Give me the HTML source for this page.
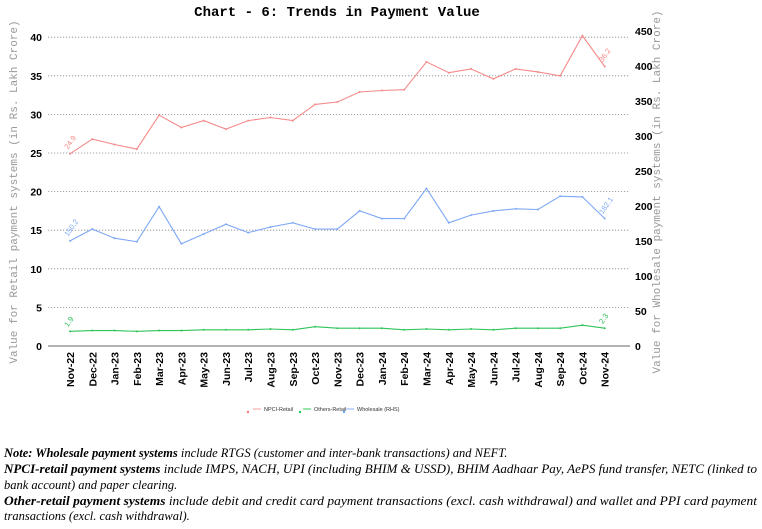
<!DOCTYPE html>
<html><head><meta charset="utf-8"><style>
body{margin:0;background:#fff;}
svg{display:block;}
</style></head><body>
<svg id="chart" width="762" height="529" viewBox="0 0 762 529" xmlns="http://www.w3.org/2000/svg">
<text x="337" y="16" text-anchor="middle" font-family="Liberation Mono, monospace" font-weight="bold" font-size="14">Chart - 6: Trends in Payment Value</text>
<g id="grid"></g>
<g id="laxis"></g>
<g id="raxis"></g>
<g id="xaxis"></g>
<g id="series"></g>
<text transform="translate(17,192) rotate(-90)" text-anchor="middle" font-family="Liberation Mono, monospace" font-size="11" fill="#999">Value for Retail payment systems (in Rs. Lakh Crore)</text>
<text transform="translate(660,192) rotate(-90)" text-anchor="middle" font-family="Liberation Mono, monospace" font-size="11" fill="#999">Value for Wholesale payment systems (in Rs. Lakh Crore)</text>
<g font-family="Liberation Sans, sans-serif" font-size="5.5" fill="#333">
<g><line x1="253" y1="409" x2="261" y2="409" stroke="#f9a0a0"/><circle cx="248" cy="412" r="1.2" fill="#f77"/><text x="264" y="411">NPCI-Retail</text></g>
<g><line x1="303" y1="409" x2="311" y2="409" stroke="#2ecc5a"/><circle cx="300" cy="412" r="1.2" fill="#2c5"/><text x="314" y="411">Others-Retail</text></g>
<g><line x1="346" y1="409" x2="354" y2="409" stroke="#8ab0ff"/><circle cx="344" cy="412" r="1.2" fill="#6af"/><text x="357" y="411">Wholesale (RHS)</text></g>
</g>
<g font-family="Liberation Serif, serif" font-style="italic" font-size="12.5" fill="#000">
<text x="4" y="457"><tspan font-weight="bold">Note: Wholesale payment systems</tspan> include RTGS (customer and inter-bank transactions) and NEFT.</text>
<text x="4" y="473" textLength="753" lengthAdjust="spacingAndGlyphs"><tspan font-weight="bold">NPCI-retail payment systems</tspan> include IMPS, NACH, UPI (including BHIM &amp; USSD), BHIM Aadhaar Pay, AePS fund transfer, NETC (linked to</text>
<text x="4" y="489">bank account) and paper clearing.</text>
<text x="4" y="505" textLength="753" lengthAdjust="spacingAndGlyphs"><tspan font-weight="bold">Other-retail payment systems</tspan> include debit and credit card payment transactions (excl. cash withdrawal) and wallet and PPI card payment</text>
<text x="4" y="520">transactions (excl. cash withdrawal).</text>
</g>
</svg>
<script>
const months = ["Nov-22","Dec-22","Jan-23","Feb-23","Mar-23","Apr-23","May-23","Jun-23","Jul-23","Aug-23","Sep-23","Oct-23","Nov-23","Dec-23","Jan-24","Feb-24","Mar-24","Apr-24","May-24","Jun-24","Jul-24","Aug-24","Sep-24","Oct-24","Nov-24"];
const npciRetail = [24.9,26.8,26.1,25.5,29.9,28.3,29.2,28.1,29.2,29.6,29.2,31.3,31.6,32.9,33.1,33.2,36.8,35.4,35.9,34.6,35.9,35.5,35.0,40.2,36.2];
const othersRetail = [1.9,2.0,2.0,1.9,2.0,2.0,2.1,2.1,2.1,2.2,2.1,2.5,2.3,2.3,2.3,2.1,2.2,2.1,2.2,2.1,2.3,2.3,2.3,2.7,2.3];
const wholesale = [150.2,167,154,149,199,146,160,174,162,170,176,167,167,193,182,182,225,176,187,193,196,195,214,213,182.1];
const leftTicks = [0,5,10,15,20,25,30,35,40];
const rightTicks = [0,50,100,150,200,250,300,350,400,450];

const NS="http://www.w3.org/2000/svg";
const X0=70, DX=22.28, Y0=346, LPX=7.72, RPX=0.7;
const xs=i=>X0+i*DX, yl=v=>Y0-v*LPX, yr=v=>Y0-v*RPX;
function mk(tag,attrs,parent,txt){const e=document.createElementNS(NS,tag);for(const k in attrs)e.setAttribute(k,attrs[k]);if(txt!==undefined)e.textContent=txt;parent.appendChild(e);return e;}
const grid=document.getElementById('grid'),la=document.getElementById('laxis'),ra=document.getElementById('raxis'),xa=document.getElementById('xaxis'),ser=document.getElementById('series');
leftTicks.forEach(v=>{
  if(v>0){const g=mk('line',{x1:48,x2:630,y1:yl(v),y2:yl(v),stroke:'#888','stroke-dasharray':'1.2,1.8','stroke-width':0.8},grid);
  
  }
  const t=mk('text',{x:42,y:yl(v)+4,'text-anchor':'end','font-family':'Liberation Sans, sans-serif','font-weight':'bold','font-size':10.5},la,String(v));
  
  
});
rightTicks.forEach(v=>{
  const t=mk('text',{x:635,y:yr(v)+4,'font-family':'Liberation Sans, sans-serif','font-weight':'bold','font-size':10.5},ra,String(v));
  
  
});
const base=mk('line',{x1:48,x2:630,y1:Y0,y2:Y0,stroke:'#999','stroke-width':1.5},xa);


months.forEach((m,i)=>{
  const t=mk('text',{transform:`translate(${xs(i)+4},352) rotate(-90)`,'text-anchor':'end','font-family':'Liberation Sans, sans-serif','font-weight':'bold','font-size':10.5},xa,m);
  
  
});
function series(vals,yf,color,name,first,last){
  const pts=vals.map((v,i)=>xs(i).toFixed(1)+','+yf(v).toFixed(1)).join(' ');
  const p=mk('polyline',{points:pts,fill:'none',stroke:color,'stroke-width':1.1},ser);
  
  
  vals.forEach((v,i)=>{const c=mk('circle',{cx:xs(i),cy:yf(v),r:1,fill:color},ser);
    
    });
  [[0,first],[vals.length-1,last]].forEach(([i,lab])=>{
    const t=mk('text',{transform:`translate(${xs(i)-2},${yf(vals[i])-4}) rotate(-55)`,'font-family':'Liberation Sans, sans-serif','font-size':7.5,fill:color},ser,lab);
    
    });
}
series(npciRetail,yl,'#f58a8a','npci-retail',npciRetail[0].toFixed(1),npciRetail[24].toFixed(1));
series(othersRetail,yl,'#2fc45a','others-retail',othersRetail[0].toFixed(1),othersRetail[24].toFixed(1));
series(wholesale,yr,'#7fa8f5','wholesale',wholesale[0].toFixed(1),wholesale[24].toFixed(1));
</script>
</body></html>
